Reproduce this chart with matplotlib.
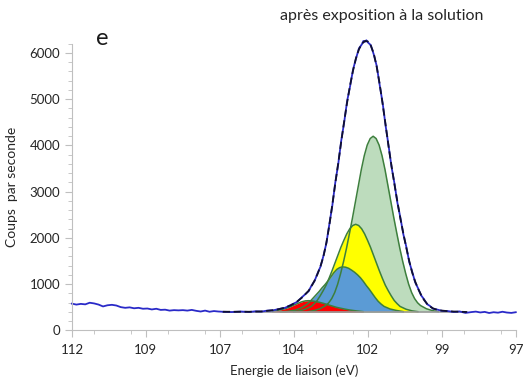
import numpy as np
import matplotlib
matplotlib.use('Agg')
import matplotlib.pyplot as plt
from matplotlib.ticker import MultipleLocator

plt.rcParams['font.family'] = ['Lato', 'DejaVu Sans']

# measured spectrum (binding energy eV, counts/s)
meas_ev = [112.0, 111.85, 111.7, 111.55, 111.4, 111.25, 111.1, 110.95, 110.8, 110.65,
           110.5, 110.35, 110.2, 110.05, 109.9, 109.75, 109.6, 109.45, 109.3, 109.15,
           109.0, 108.85, 108.7, 108.55, 108.4, 108.25, 108.1, 107.95, 107.8, 107.65,
           107.5, 107.35, 107.2, 107.05, 106.9, 106.6, 106.3, 106.0, 105.8, 105.6,
           105.4, 105.2, 105.0, 104.8, 104.6, 104.4, 104.2, 104.0, 103.9, 103.8,
           103.7, 103.6, 103.5, 103.4, 103.3, 103.2, 103.1, 103.0, 102.9, 102.8,
           102.7, 102.6, 102.5, 102.4, 102.3, 102.2, 102.15, 102.1, 102.05, 102.0,
           101.9, 101.8, 101.7, 101.6, 101.5, 101.4, 101.3, 101.2, 101.1, 101.0,
           100.9, 100.8, 100.7, 100.6, 100.5, 100.4, 100.3, 100.2, 100.1, 100.0,
           99.9, 99.8, 99.7, 99.5, 99.3, 99.1, 98.9, 98.7, 98.5, 98.35,
           98.2, 98.05, 97.9, 97.75, 97.6, 97.45, 97.3, 97.15, 97.0]
meas_cps = [580, 560, 575, 565, 600, 585, 560, 520, 545, 555,
            540, 505, 490, 500, 480, 490, 470, 475, 455, 470,
            445, 450, 430, 440, 435, 440, 430, 445, 425, 410,
            430, 405, 420, 410, 405, 398, 410, 400, 415, 408,
            430, 436, 465, 490, 552, 615, 735, 850, 975, 1070,
            1235, 1380, 1615, 1890, 2300, 2700, 3200, 3600, 4100, 4500,
            4960, 5280, 5640, 5880, 6100, 6190, 6260, 6240, 6275, 6230,
            6170, 5970, 5720, 5310, 4920, 4430, 4000, 3540, 3180, 2760,
            2440, 2080, 1810, 1480, 1270, 1040, 910, 760, 675, 570,
            530, 470, 460, 425, 420, 400, 412, 380, 398, 408,
            390, 402, 378, 395, 385, 405, 388, 380, 395]

# fitted envelope
fit_ev = [106.9, 106.0, 105.6, 105.4, 105.2, 105.0, 104.8, 104.6, 104.4, 104.2,
          104.0, 103.9, 103.8, 103.7, 103.6, 103.5, 103.4, 103.3, 103.2, 103.1,
          103.0, 102.9, 102.8, 102.7, 102.6, 102.5, 102.4, 102.3, 102.2, 102.1,
          102.0, 101.9, 101.8, 101.7, 101.6, 101.5, 101.4, 101.3, 101.2, 101.1,
          101.0, 100.9, 100.8, 100.7, 100.6, 100.5, 100.4, 100.3, 100.2, 100.1,
          100.0, 99.9, 99.8, 99.7, 99.5, 99.3, 99.1, 98.9, 98.65]
fit_cps = [405, 405, 412, 425, 440, 462, 495, 545, 620, 725,
           860, 960, 1080, 1220, 1390, 1600, 1900, 2280, 2720, 3180,
           3620, 4080, 4520, 4930, 5300, 5620, 5890, 6080, 6200, 6260,
           6250, 6160, 5990, 5700, 5330, 4900, 4450, 3980, 3560, 3160,
           2780, 2420, 2100, 1790, 1500, 1250, 1060, 900, 770, 660,
           580, 520, 480, 455, 430, 418, 410, 405, 400]

baseline_ev = [106.9, 98.65]
baseline_cps = [402, 402]

# fitted components, back to front
green_ev = [104.02, 103.82, 103.62, 103.42, 103.32, 103.22, 103.12, 103.02, 102.92, 102.82,
            102.72, 102.62, 102.52, 102.42, 102.32, 102.22, 102.12, 102.02, 101.92, 101.82,
            101.72, 101.62, 101.52, 101.42, 101.32, 101.22, 101.12, 101.02, 100.92, 100.82,
            100.72, 100.62, 100.52, 100.42, 100.32, 100.22, 100.02, 99.82, 99.62]
green_cps = [407, 430, 470, 540, 600, 690, 820, 1000, 1230, 1490,
             1780, 2100, 2430, 2780, 3130, 3480, 3780, 4010, 4150, 4200,
             4150, 4010, 3780, 3480, 3130, 2780, 2430, 2100, 1780, 1490,
             1230, 1000, 820, 690, 600, 540, 470, 430, 407]

yellow_ev = [104.51, 104.31, 104.11, 103.91, 103.81, 103.71, 103.61, 103.51, 103.41, 103.31,
             103.21, 103.11, 103.01, 102.91, 102.81, 102.71, 102.61, 102.51, 102.41, 102.31,
             102.21, 102.11, 102.01, 101.91, 101.81, 101.71, 101.61, 101.51, 101.41, 101.31,
             101.21, 101.11, 101.01, 100.91, 100.71, 100.51, 100.31]
yellow_cps = [407, 425, 460, 520, 580, 650, 750, 860, 980, 1130,
              1290, 1460, 1630, 1800, 1950, 2090, 2200, 2270, 2296, 2270,
              2200, 2090, 1950, 1800, 1630, 1460, 1290, 1130, 980, 860,
              750, 650, 580, 520, 460, 425, 407]

blue_ev = [104.95, 104.75, 104.45, 104.25, 104.05, 103.95, 103.85, 103.75, 103.65, 103.55,
           103.45, 103.35, 103.25, 103.15, 103.05, 102.95, 102.85, 102.75, 102.65, 102.55,
           102.45, 102.35, 102.25, 102.15, 102.05, 101.95, 101.85, 101.75, 101.65, 101.55,
           101.45, 101.25, 101.05, 100.8]
blue_cps = [404, 410, 440, 490, 570, 630, 700, 770, 840, 920,
            990, 1070, 1160, 1250, 1320, 1360, 1375, 1368, 1345, 1305,
            1260, 1205, 1140, 1060, 970, 890, 800, 710, 630, 570,
            520, 465, 435, 407]

red_ev = [105.21, 105.01, 104.91, 104.81, 104.71, 104.61, 104.51, 104.41, 104.31, 104.21,
          104.11, 104.01, 103.91, 103.81, 103.71, 103.61, 103.51, 103.41, 103.31, 103.21,
          103.06, 102.91, 102.76, 102.61, 102.41, 102.16]
red_cps = [410, 440, 452, 470, 490, 515, 545, 573, 602, 625,
           640, 644, 641, 632, 620, 605, 588, 570, 550, 530,
           501, 480, 460, 443, 425, 407]

xtick_pos = [112, 109.5, 107, 104.5, 102, 99.5, 97]
xtick_labels = ['112', '109', '107', '104', '102', '99', '97']

fig = plt.figure(figsize=(5.29, 3.85), dpi=100)
ax = fig.add_axes([0.136, 0.1416, 0.839, 0.7448])

edge = '#3d7f3d'
components = [(green_ev, green_cps, '#bddcbd'),
              (yellow_ev, yellow_cps, '#ffff00'),
              (blue_ev, blue_cps, '#5b9bd5'),
              (red_ev, red_cps, '#ff0000')]
for ev, cps, col in components:
    ax.fill_between(ev, cps, 402, color=col, lw=0)
    ax.plot(ev, cps, color=edge, lw=1.1, solid_joinstyle='round')

ax.plot(baseline_ev, baseline_cps, color='#9a9a9a', lw=1.2)
ax.plot(meas_ev, meas_cps, color='#2a2ac8', lw=1.3, clip_on=False)
ax.plot(fit_ev, fit_cps, color='#101030', lw=1.3, ls=(0, (4, 2)), clip_on=False)

ax.set_xlim(112, 97)
ax.set_ylim(0, 6200)
ax.set_xticks(xtick_pos)
ax.set_xticklabels(xtick_labels)
ax.xaxis.set_minor_locator(MultipleLocator(1.25))
ax.yaxis.set_major_locator(MultipleLocator(1000))
ax.yaxis.set_minor_locator(MultipleLocator(200))

for s in ['top', 'right']:
    ax.spines[s].set_visible(False)
for s in ['left', 'bottom']:
    ax.spines[s].set_color('#bfbfbf')
ax.tick_params(which='major', length=5, color='#bfbfbf', labelsize=9.5,
               labelcolor='#262626')
ax.tick_params(which='minor', length=3, color='#bfbfbf')
ax.tick_params(axis='x', pad=5)

ax.set_xlabel('Energie de liaison (eV)', fontsize=9.5, color='#262626', labelpad=6)
ax.set_ylabel('Coups  par seconde', fontsize=10, color='#262626', labelpad=8)

fig.text(0.722, 0.958, 'après exposition à la solution', ha='center', va='center',
         fontsize=11.5, color='#262626')
fig.text(0.181, 0.9, 'e', ha='left', va='center', fontsize=17, color='#1a1a1a')

fig.savefig('out.png', dpi=100)
